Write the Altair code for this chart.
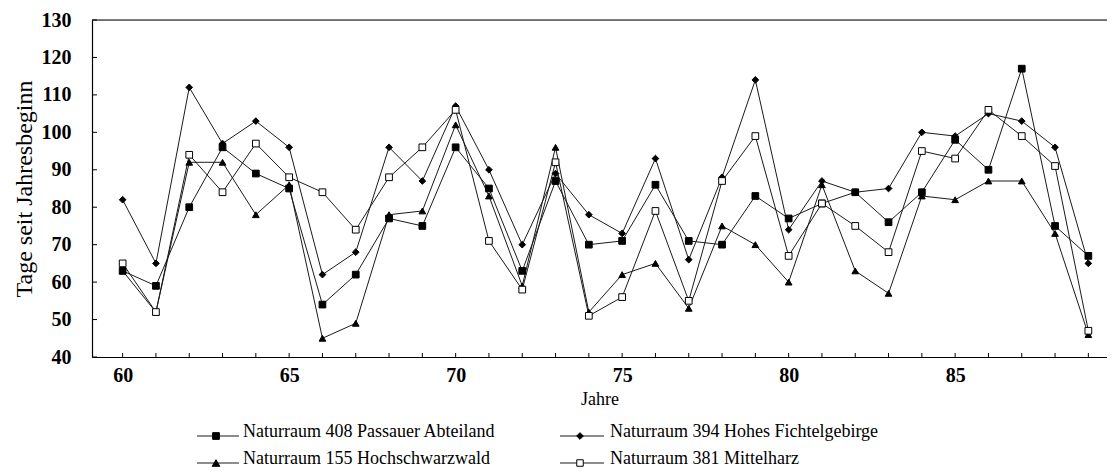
import altair as alt
import pandas as pd

# ---------------- data ----------------
years = list(range(60, 90))
passau = [63, 59, 80, 96, 89, 85, 54, 62, 77, 75, 96, 85, 63, 87, 70,
          71, 86, 71, 70, 83, 77, 81, 84, 76, 84, 98, 90, 117, 75, 67]
fichtel = [82, 65, 112, 97, 103, 96, 62, 68, 96, 87, 107, 90, 70, 89, 78,
           73, 93, 66, 88, 114, 74, 87, 84, 85, 100, 99, 105, 103, 96, 65]
hochschw = [63, 52, 92, 92, 78, 86, 45, 49, 78, 79, 102, 83, 59, 96, 52,
            62, 65, 53, 75, 70, 60, 86, 63, 57, 83, 82, 87, 87, 73, 46]
mittelharz = [65, 52, 94, 84, 97, 88, 84, 74, 88, 96, 106, 71, 58, 92, 51,
              56, 79, 55, 87, 99, 67, 81, 75, 68, 95, 93, 106, 99, 91, 47]

series_names = ["Naturraum 408 Passauer Abteiland",
                "Naturraum 394 Hohes Fichtelgebirge",
                "Naturraum 155 Hochschwarzwald",
                "Naturraum 381 Mittelharz"]
shapes = ["square", "diamond", "triangle-up", "square"]
fills = ["black", "black", "black", "white"]
sizes = [45, 45, 58, 42]

y_ticks = list(range(40, 140, 10))
x_labels = [60, 65, 70, 75, 80, 85]

rows = []
for name, vals in zip(series_names, [passau, fichtel, hochschw, mittelharz]):
    for yr, v in zip(years, vals):
        rows.append({"Jahr": yr, "Tage": v, "Serie": name})
df = pd.DataFrame(rows)

# ---------------- layout ----------------
FONT = "Liberation Serif"
W, H = 1015, 337
xscale = alt.Scale(domain=[59.08, 89.56], nice=False, zero=False)
yscale = alt.Scale(domain=[40, 130], nice=False, zero=False)

x_axis = alt.Axis(values=x_labels, format="d", title="Jahre",
                  tickSize=0, grid=False, labelPadding=8, labelOverlap=False,
                  labelFont=FONT, labelFontSize=20, labelFontWeight="bold",
                  labelColor="black", titleFont=FONT, titleFontSize=18,
                  titleFontWeight="normal", titleColor="black",
                  titlePadding=5, domainColor="black", domainWidth=1.2)
y_axis = alt.Axis(values=y_ticks, title="Tage seit Jahresbeginn",
                  tickSize=0, grid=False, labelPadding=21, labelOverlap=False,
                  labelFont=FONT, labelFontSize=20, labelFontWeight="bold",
                  labelColor="black", titleFont=FONT, titleFontSize=24,
                  titleFontWeight="normal", titleColor="black",
                  titlePadding=5, domainColor="black", domainWidth=1.2)

x_enc = alt.X("Jahr:Q", scale=xscale, axis=x_axis)
y_enc = alt.Y("Tage:Q", scale=yscale, axis=y_axis)

base = alt.Chart(df)

lines = base.mark_line(color="#1a1a1a", strokeWidth=1).encode(
    x=x_enc, y=y_enc, detail="Serie:N", order="Jahr:Q")

points = base.mark_point(filled=True, stroke="black", strokeWidth=1,
                         opacity=1, fillOpacity=1).encode(
    x=x_enc, y=y_enc,
    shape=alt.Shape("Serie:N", scale=alt.Scale(domain=series_names, range=shapes), legend=None),
    fill=alt.Fill("Serie:N", scale=alt.Scale(domain=series_names, range=fills), legend=None),
    size=alt.Size("Serie:N", scale=alt.Scale(domain=series_names, range=sizes), legend=None),
)

# inward tick marks
ytick_df = pd.DataFrame({"Tage": y_ticks})
yticks = alt.Chart(ytick_df).mark_rule(color="black", strokeWidth=1).encode(
    y=y_enc, x=alt.value(0), x2=alt.value(5))
xtick_df = pd.DataFrame({"Jahr": years})
xticks = alt.Chart(xtick_df).mark_rule(color="black", strokeWidth=1).encode(
    x=x_enc, y=alt.value(H), y2=alt.value(H - 4))
top_rule = alt.Chart(pd.DataFrame({"Tage": [130]})).mark_rule(
    color="black", strokeWidth=1.2).encode(y=y_enc, x=alt.value(0), x2=alt.value(W))

# manual legend (two columns, two rows)
leg_line = [(105, 147), (468, 512)]
leg_mark = [124, 488]
leg_text = [151, 518]
leg_rows = [412, 439]
legend_layers = []
for i, name in enumerate(series_names):
    c, r = i % 2, i // 2
    one = pd.DataFrame({"label": [name]})
    legend_layers.append(alt.Chart(one).mark_rule(color="#1a1a1a", strokeWidth=1).encode(
        x=alt.value(leg_line[c][0]), x2=alt.value(leg_line[c][1]), y=alt.value(leg_rows[r] + 4)))
    legend_layers.append(alt.Chart(one).mark_point(
        shape=shapes[i], fill=fills[i], filled=True, stroke="black", strokeWidth=1,
        size=sizes[i], opacity=1, fillOpacity=1).encode(
        x=alt.value(leg_mark[c]), y=alt.value(leg_rows[r] + 4)))
    legend_layers.append(alt.Chart(one).mark_text(
        align="left", baseline="middle", font=FONT, fontSize=18, color="black").encode(
        x=alt.value(leg_text[c]), y=alt.value(leg_rows[r]), text="label:N"))

chart = alt.layer(lines, points, yticks, xticks, top_rule, *legend_layers).properties(
    width=W, height=H,
    autosize=alt.AutoSizeParams(type="none"),
    padding={"left": 84, "top": 12, "right": 0, "bottom": 115},
).configure_view(strokeWidth=0).configure(background="white")

chart.save("out.html", embed_options={"renderer": "svg", "actions": False})
